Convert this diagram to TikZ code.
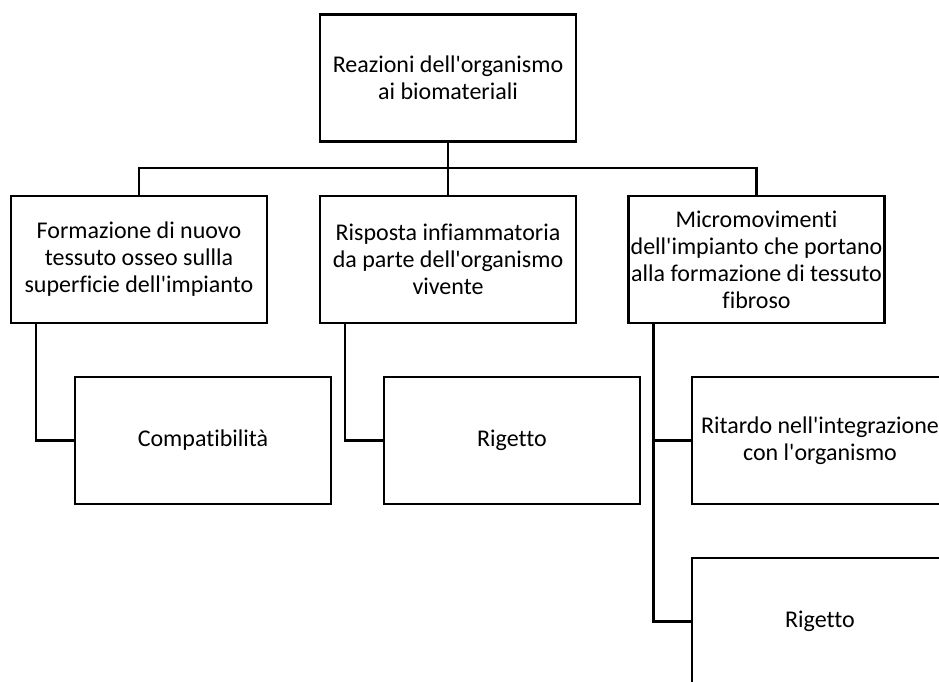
\documentclass[tikz,border=0pt]{standalone}
\usepackage{fontspec}
\newfontfamily\boxfont{Carlito}[Ligatures=NoCommon]
\tikzset{
  box/.style={draw, line width=2.5pt, minimum width=256pt, minimum height=127pt, align=center, inner sep=2pt, font=\boxfont\fontsize{24}{27}\selectfont},
  link/.style={line width=2.5pt}
}
\begin{document}
\begin{tikzpicture}[x=1pt, y=-1pt]
% Set the canvas (pixel units, y pointing down)
\clip (0,0) rectangle (939,682);
\useasboundingbox (0,0) rectangle (939,682);

% Draw the boxes
\node[box] (root) at (448,78) {Reazioni dell'organismo\\ai biomateriali};
\node[box] (osseo) at (139,259.5) {Formazione di nuovo\\tessuto osseo sullla\\superficie dell'impianto};
\node[box] (infiamm) at (448,259.5) {Risposta infiammatoria\\da parte dell'organismo\\vivente};
\node[box] (micro) at (756.5,259.5) {Micromovimenti\\dell'impianto che portano\\alla formazione di tessuto\\fibroso};
\node[box] (compat) at (203,440.5) {Compatibilità};
\node[box] (rigetto) at (512,440.5) {Rigetto};
\node[box] (ritardo) at (820,440.5) {Ritardo nell'integrazione\\con l'organismo};
\node[box] (rigettob) at (820,621.5) {Rigetto};

% Draw the connectors
\coordinate (bar) at (448,168);
\draw[link] (root.south) -- (bar);
\draw[link] (bar) -| (osseo.north);
\draw[link] (bar) -- (infiamm.north);
\draw[link] (bar) -| (micro.north);
\draw[link] ([xshift=26pt]osseo.south west) |- (compat.west);
\draw[link] ([xshift=26pt]infiamm.south west) |- (rigetto.west);
\draw[link] ([xshift=26pt]micro.south west) |- (ritardo.west);
\draw[link] ([xshift=26pt]micro.south west) |- (rigettob.west);
\end{tikzpicture}
\end{document}
